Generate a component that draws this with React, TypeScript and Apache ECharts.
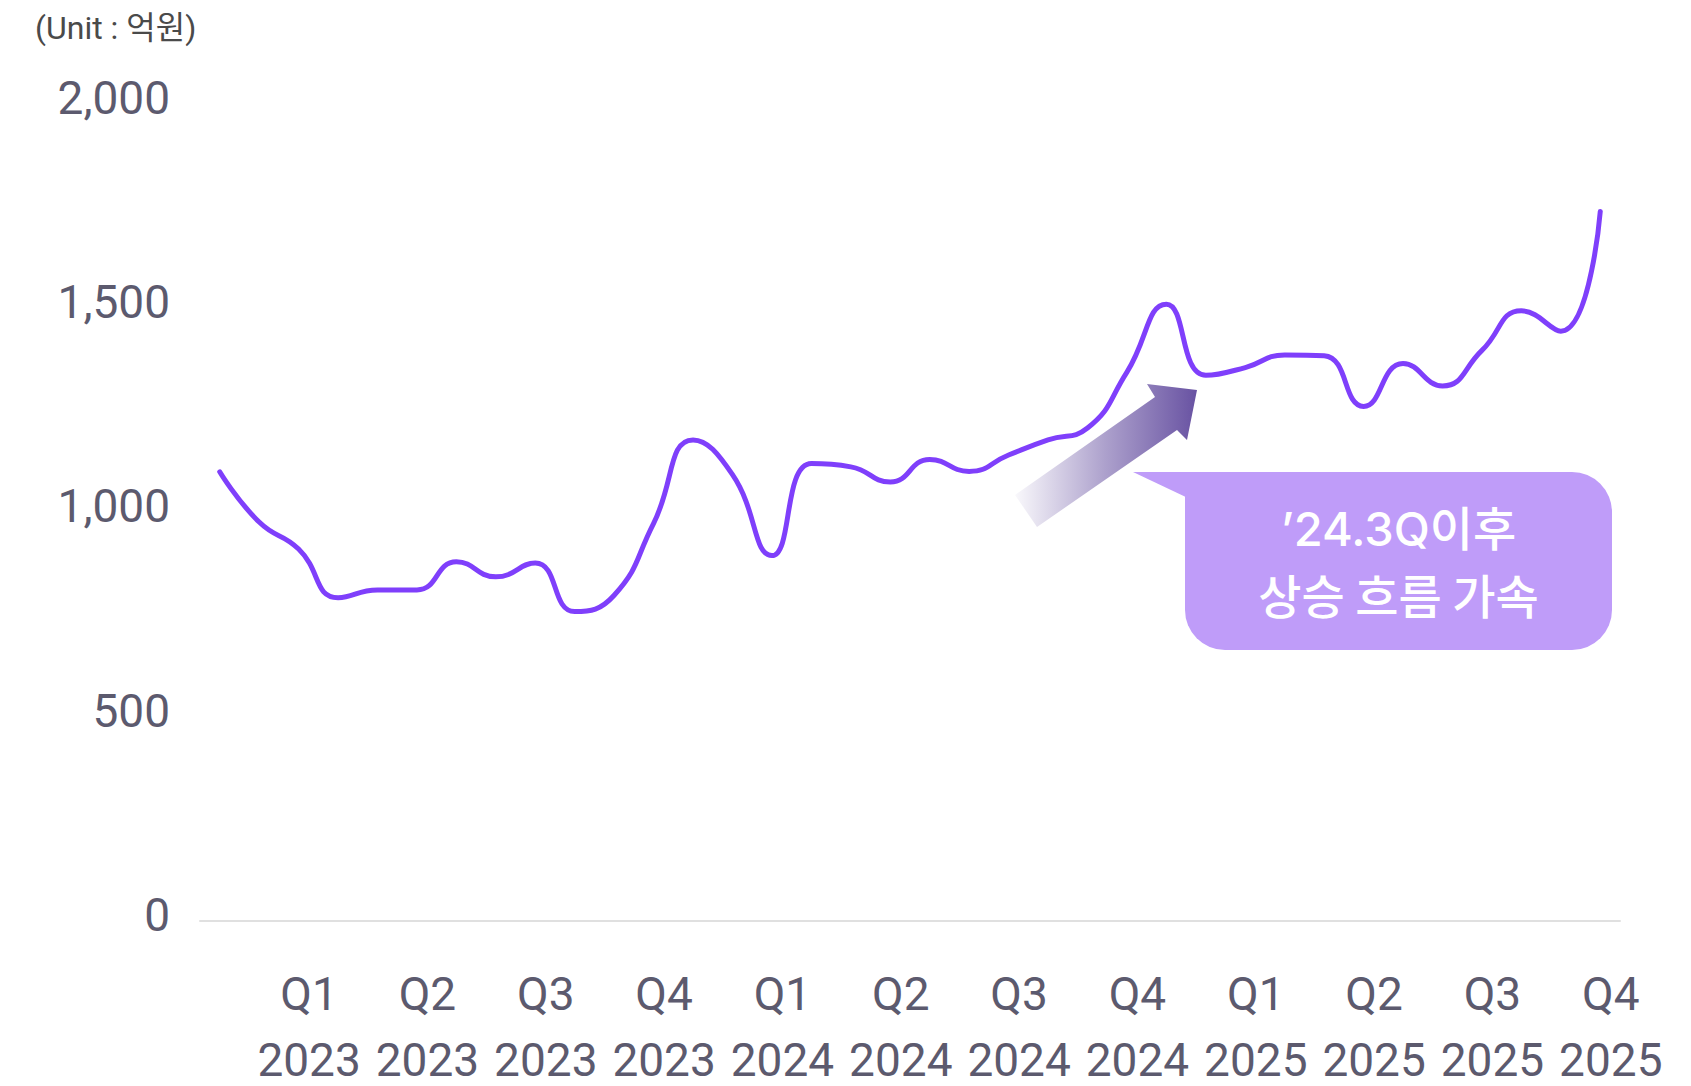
import React, { useEffect, useRef } from "react";
import * as echarts from "echarts";

const years = ["2023", "2024", "2025"];
const monthNums = ["01", "02", "03", "04", "05", "06", "07", "08", "09", "10", "11", "12"];
const months: string[] = years.flatMap((y) => monthNums.map((m) => `${y}-${m}`));

const quarterLabels = [
  "Q1\n2023", "Q2\n2023", "Q3\n2023", "Q4\n2023",
  "Q1\n2024", "Q2\n2024", "Q3\n2024", "Q4\n2024",
  "Q1\n2025", "Q2\n2025", "Q3\n2025", "Q4\n2025",
];

const revenue = [
  1099, 976, 910, 791, 810, 810, 879, 842, 876, 757, 797, 973,
  1177, 1092, 894, 1119, 1111, 1074, 1129, 1100, 1140, 1177, 1206, 1343,
  1509, 1335, 1354, 1385, 1383, 1259, 1364, 1309, 1396, 1493, 1443, 1736,
];

const yTicks = { min: 0, max: 2000, interval: 500 };
const unitText = "(Unit : 억원)";
const calloutLine1 = "\u201924.3Q이후";
const calloutLine2 = "상승 흐름 가속";

const FONT = "Roboto, 'Noto Sans CJK KR', sans-serif";
const LABEL_COLOR = "#5c5a6e";

export default function App() {
  const ref = useRef<HTMLDivElement>(null);

  useEffect(() => {
    if (!ref.current) return;
    const chart = echarts.init(ref.current, null, { renderer: "svg" });

    const option: any = {
      animation: false,
      backgroundColor: "#ffffff",
      grid: {
        left: 200,
        right: 71,
        top: 103.5,
        bottom: 165,
        containLabel: false,
        outerBoundsMode: "none",
      },
      xAxis: {
        type: "category",
        data: months,
        boundaryGap: true,
        axisTick: { show: false },
        axisLine: { show: true, lineStyle: { color: "#e0e0e0", width: 2 } },
        axisLabel: {
          interval: (index: number) => index % 3 === 2,
          formatter: (_v: string, index: number) =>
            index % 3 === 2 ? quarterLabels[(index - 2) / 3] : "",
          hideOverlap: false,
          showMinLabel: true,
          showMaxLabel: true,
          fontFamily: FONT,
          fontSize: 46,
          lineHeight: 66,
          color: LABEL_COLOR,
          margin: 40,
          padding: [0, -10, 0, 11],
        },
      },
      yAxis: {
        type: "value",
        min: yTicks.min,
        max: yTicks.max,
        interval: yTicks.interval,
        splitLine: { show: false },
        axisLine: { show: false },
        axisTick: { show: false },
        axisLabel: {
          fontFamily: FONT,
          fontSize: 46,
          color: LABEL_COLOR,
          margin: 30,
          verticalAlign: "bottom",
          lineHeight: 12,
          formatter: (v: number) => v.toLocaleString("en-US"),
        },
      },
      series: [
        {
          type: "line",
          data: revenue,
          smooth: 0.5,
          symbol: "none",
          lineStyle: { color: "#7f3ffb", width: 5, cap: "round" },
        },
      ],
      graphic: [
        {
          type: "text",
          left: 35,
          top: 12,
          style: {
            text: unitText,
            fontFamily: FONT,
            fontSize: 32,
            fill: "#4a4a4a",
          },
        },
        {
          type: "polygon",
          shape: {
            points: [
              [1015, 495],
              [1155, 397],
              [1147, 384],
              [1197, 390],
              [1187, 440],
              [1177, 430],
              [1037, 527],
            ],
          },
          style: {
            fill: new echarts.graphic.LinearGradient(0, 0, 1, 0, [
              { offset: 0, color: "rgba(104,82,162,0.04)" },
              { offset: 0.5, color: "rgba(104,82,162,0.55)" },
              { offset: 1, color: "rgba(104,82,162,1)" },
            ]),
          },
        },
        {
          type: "polygon",
          shape: {
            points: [
              [1133, 472],
              [1190, 472],
              [1190, 499],
            ],
          },
          style: { fill: "#bf9cf9" },
        },
        {
          type: "rect",
          shape: { x: 1185, y: 472, width: 427, height: 178, r: [0, 40, 40, 40] },
          style: { fill: "#bf9cf9" },
        },
        {
          type: "text",
          x: 1398.5,
          y: 561,
          style: {
            text: `{a|${calloutLine1}}\n{b|${calloutLine2}}`,
            align: "center",
            verticalAlign: "middle",
            rich: {
              a: {
                fontFamily: "Inter, 'Noto Sans CJK KR', sans-serif",
                fontSize: 47,
                fontWeight: 500,
                lineHeight: 65,
                fill: "#ffffff",
                color: "#ffffff",
              },
              b: {
                fontFamily: "'Noto Sans CJK KR', sans-serif",
                fontSize: 47,
                fontWeight: 500,
                lineHeight: 65,
                fill: "#ffffff",
                color: "#ffffff",
              },
            },
          },
        },
      ],
    };

    chart.setOption(option);
    return () => chart.dispose();
  }, []);

  return (
    <div
      ref={ref}
      style={{ position: "fixed", left: 0, top: 0, width: 1691, height: 1086 }}
    />
  );
}
